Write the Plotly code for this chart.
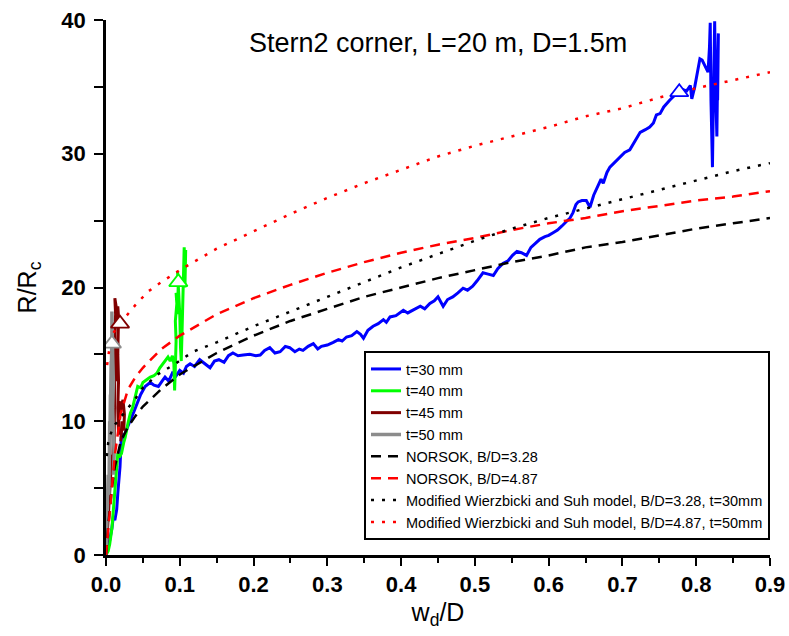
import plotly.graph_objects as go

# ---------------- data ----------------
blue_x = [0.0, 0.004, 0.008, 0.010, 0.012, 0.0145, 0.016, 0.019, 0.021, 0.024, 0.026, 0.029, 0.033, 0.037,
          0.042, 0.047, 0.053, 0.060, 0.065, 0.071, 0.076, 0.080, 0.085, 0.090, 0.095, 0.100, 0.105, 0.109,
          0.114, 0.120, 0.127, 0.134, 0.141, 0.147, 0.153, 0.160, 0.166, 0.172, 0.179, 0.186, 0.195, 0.203,
          0.209, 0.215, 0.222, 0.229, 0.236, 0.243, 0.249, 0.256, 0.262, 0.267, 0.274, 0.281, 0.287, 0.292,
          0.300, 0.308, 0.315, 0.320, 0.326, 0.333, 0.340, 0.345, 0.349, 0.355, 0.362, 0.369, 0.376, 0.380,
          0.385, 0.393, 0.398, 0.403, 0.409, 0.416, 0.421, 0.426, 0.432, 0.439, 0.445, 0.450, 0.454, 0.457,
          0.463, 0.470, 0.477, 0.484, 0.490, 0.497, 0.503, 0.511, 0.518, 0.525, 0.531, 0.538, 0.545, 0.551,
          0.557, 0.563, 0.570, 0.576, 0.582, 0.588, 0.595, 0.600, 0.606, 0.612, 0.618, 0.624, 0.629, 0.633,
          0.637, 0.640, 0.645, 0.651, 0.656, 0.661, 0.667, 0.671, 0.674, 0.679, 0.683, 0.690, 0.697, 0.703,
          0.710, 0.717, 0.724, 0.731, 0.737, 0.742, 0.746, 0.751, 0.756, 0.764, 0.770, 0.775, 0.782, 0.787,
          0.792, 0.794, 0.798, 0.801, 0.805, 0.808, 0.812, 0.816, 0.818, 0.819, 0.820, 0.821, 0.822, 0.823,
          0.824, 0.825, 0.826, 0.827, 0.828, 0.829, 0.830, 0.829]
blue_y = [0.0, 0.8, 2.0, 2.9, 2.6, 3.4, 4.6, 6.6, 9.1, 8.7, 9.1, 9.6, 10.1, 10.6,
          11.3, 12.0, 12.6, 12.9, 12.7, 12.6, 13.0, 13.3, 13.0, 13.6, 13.4, 13.8, 13.6, 14.1,
          14.3, 14.1, 14.6, 14.3, 14.0, 14.5, 14.6, 14.4, 14.9, 15.1, 14.9, 14.95, 15.0, 14.9,
          14.95, 15.3, 15.5, 15.1, 15.2, 15.6, 15.5, 15.2, 15.4, 15.3, 15.6, 15.8, 15.4, 15.6,
          15.7, 15.9, 16.1, 16.0, 16.3, 16.4, 16.7, 16.5, 16.2, 16.8, 17.1, 17.3, 17.6, 17.4,
          17.8, 17.9, 18.1, 18.3, 18.1, 18.3, 18.5, 18.6, 18.4, 18.8, 19.0, 19.3, 18.9, 18.6,
          19.1, 19.3, 19.6, 19.95, 19.8, 20.1, 20.5, 21.1, 21.0, 20.9, 21.4, 21.8, 22.0, 22.4,
          22.7, 22.6, 22.4, 23.0, 23.3, 23.6, 23.8, 23.9, 24.1, 24.3, 24.6, 24.9, 25.2, 25.6,
          26.2, 26.4, 26.5, 26.5, 26.0, 26.9, 27.7, 28.1, 27.8, 28.6, 29.0, 29.4, 29.8, 30.1,
          30.3, 31.0, 31.6, 31.8, 32.0, 32.3, 32.9, 33.0, 33.5, 34.0, 34.3, 34.6, 34.8, 34.7,
          35.1, 34.1, 35.0, 35.8, 37.1, 37.0, 36.6, 36.1, 38.0, 39.8, 34.0, 31.5, 29.0, 33.0,
          38.5, 39.9, 35.5, 32.0, 31.3, 36.0, 39.0, 34.0]

green_x = [0.0, 0.003, 0.005, 0.008, 0.010, 0.012, 0.0145, 0.016, 0.018, 0.021, 0.024, 0.026, 0.030, 0.033,
           0.036, 0.039, 0.043, 0.047, 0.050, 0.055, 0.060, 0.065, 0.069, 0.073, 0.077, 0.081, 0.084, 0.087,
           0.090, 0.092, 0.093, 0.094, 0.095, 0.094, 0.096, 0.095, 0.097, 0.098, 0.097, 0.099, 0.100, 0.101,
           0.102, 0.103, 0.104, 0.105, 0.106, 0.107, 0.108, 0.107]
green_y = [0.0, 0.3, 0.8, 2.0, 3.4, 4.8, 6.6, 7.6, 7.3, 7.6, 8.4, 8.8, 9.9, 10.6,
           11.0, 11.6, 12.6, 12.5, 12.9, 13.1, 13.3, 13.4, 13.6, 14.0, 14.3, 14.6, 14.8, 14.5,
           14.9, 14.3, 12.3, 14.0, 16.0, 17.5, 18.8, 19.6, 18.0, 20.4, 21.2, 19.5, 18.0, 15.5,
           14.5, 16.5, 19.0, 21.5, 23.0, 21.5, 22.8, 20.0]

dred_x = [0.0, 0.003, 0.006, 0.008, 0.009, 0.010, 0.011, 0.011, 0.012, 0.012, 0.013, 0.012, 0.013, 0.012,
          0.014, 0.015, 0.016, 0.017, 0.016, 0.017, 0.016, 0.017, 0.018, 0.019, 0.021, 0.023, 0.025, 0.024,
          0.022, 0.020]
dred_y = [0.0, 2.5, 5.0, 7.5, 6.5, 9.0, 8.0, 11.5, 10.5, 14.0, 13.0, 16.5, 18.0, 19.2,
          18.5, 17.5, 18.6, 17.8, 15.0, 13.0, 11.0, 9.0, 11.5, 10.5, 11.2, 11.6, 10.5, 9.3,
          10.0, 8.5]

gray_x = [0.0, 0.002, 0.003, 0.004, 0.004, 0.005, 0.005, 0.006, 0.006, 0.007, 0.007, 0.008, 0.008, 0.009,
          0.009, 0.010, 0.009, 0.010, 0.011, 0.010]
gray_y = [0.0, 3.0, 6.0, 4.5, 8.0, 10.0, 7.5, 12.0, 10.5, 14.5, 13.0, 16.5, 18.2, 17.5,
          15.0, 13.0, 11.0, 9.0, 7.5, 6.0]

# analytical model curves
norsok_x = [0.0, 0.003, 0.008, 0.012, 0.02, 0.03, 0.04, 0.05, 0.075, 0.1, 0.15, 0.2, 0.25, 0.3, 0.35,
            0.4, 0.45, 0.5, 0.55, 0.6, 0.65, 0.7, 0.75, 0.8, 0.85, 0.9]
norsok328_y = [0.0, 2.2, 5.0, 6.6, 8.5, 9.6, 10.4, 11.1, 12.4, 13.5, 15.1, 16.4, 17.5, 18.4, 19.3,
               20.0, 20.7, 21.3, 21.9, 22.4, 23.0, 23.4, 23.9, 24.4, 24.8, 25.2]
norsok487_y = [0.0, 1.9, 4.7, 7.5, 10.6, 12.4, 13.3, 14.0, 15.4, 16.4, 18.0, 19.2, 20.2, 21.1, 21.9,
               22.6, 23.2, 23.7, 24.3, 24.8, 25.2, 25.7, 26.1, 26.5, 26.8, 27.2]

ws328_x = [0.001, 0.003, 0.006, 0.01, 0.02, 0.03, 0.04, 0.05, 0.07, 0.094, 0.118, 0.15, 0.2, 0.25, 0.3,
           0.35, 0.4, 0.45, 0.5, 0.55, 0.6, 0.65, 0.7, 0.75, 0.8, 0.85, 0.9]
ws328_y = [7.4, 8.4, 9.0, 9.6, 10.3, 11.0, 11.7, 12.5, 13.5, 14.3, 15.2, 15.9, 17.1, 18.2, 19.3,
           20.4, 21.5, 22.5, 23.5, 24.4, 25.2, 25.9, 26.6, 27.3, 28.0, 28.7, 29.3]

ws487_x = [0.0015, 0.005, 0.01, 0.02, 0.028, 0.04, 0.057, 0.075, 0.1, 0.15, 0.2, 0.25, 0.3, 0.35, 0.4,
           0.45, 0.5, 0.55, 0.6, 0.65, 0.7, 0.75, 0.8, 0.85, 0.9]
ws487_y = [14.2, 15.6, 16.6, 17.4, 17.9, 18.7, 19.7, 20.4, 21.3, 22.9, 24.2, 25.5, 26.7, 27.8, 28.8,
           29.8, 30.6, 31.3, 32.0, 32.8, 33.4, 34.2, 34.9, 35.5, 36.1]

# failure markers (open triangles)
tri_x = [0.777, 0.098, 0.019, 0.008]
tri_y = [34.6, 20.4, 17.3, 15.8]
tri_colors = ["#0000FF", "#00FF00", "#800000", "#8C8C8C"]

series_names = ["t=30 mm", "t=40 mm", "t=45 mm", "t=50 mm",
                "NORSOK, B/D=3.28", "NORSOK, B/D=4.87",
                "Modified Wierzbicki and Suh model, B/D=3.28, t=30mm",
                "Modified Wierzbicki and Suh model, B/D=4.87, t=50mm"]

x_ticks = [0.0, 0.1, 0.2, 0.3, 0.4, 0.5, 0.6, 0.7, 0.8, 0.9]
y_ticks = [0, 10, 20, 30, 40]

# ---------------- figure ----------------
fig = go.Figure()

data_series = [(blue_x, blue_y, "#0000FF", 3), (green_x, green_y, "#00FF00", 3),
               (dred_x, dred_y, "#800000", 3), (gray_x, gray_y, "#8C8C8C", 3.5)]
for (xs, ys, c, w), name in zip(data_series, series_names[:4]):
    fig.add_trace(go.Scatter(x=xs, y=ys, mode="lines", name=name,
                             line=dict(color=c, width=w)))

model_series = [(norsok_x, norsok328_y, "black", "10px,7px"),
                (norsok_x, norsok487_y, "#FF0000", "10px,7px"),
                (ws328_x, ws328_y, "black", "3px,8px"),
                (ws487_x, ws487_y, "#FF0000", "3px,8px")]
for (xs, ys, c, d), name in zip(model_series, series_names[4:]):
    fig.add_trace(go.Scatter(x=xs, y=ys, mode="lines", name=name,
                             line=dict(color=c, width=2.5, dash=d)))

for xv, yv, c in zip(tri_x, tri_y, tri_colors):
    fig.add_trace(go.Scatter(x=[xv], y=[yv], mode="markers", showlegend=False,
                             marker=dict(symbol="triangle-up", size=16, color="white",
                                         line=dict(color=c, width=1.8))))

FONT = "Liberation Sans, Arial, sans-serif"
fig.update_layout(
    width=789, height=636,
    margin=dict(l=106, r=19, t=20, b=81, autoexpand=False),
    paper_bgcolor="white", plot_bgcolor="white",
    font=dict(family=FONT, color="black"),
    showlegend=True,
    legend=dict(x=1.0, y=0.028, xanchor="right", yanchor="bottom",
                bordercolor="black", borderwidth=2, bgcolor="white",
                font=dict(size=14.5, family=FONT, color="black"),
                tracegroupgap=0),
    annotations=[dict(text="Stern2 corner, L=20 m, D=1.5m", xref="paper", yref="paper",
                      x=0.5, y=0.957, xanchor="center", yanchor="middle", showarrow=False,
                      font=dict(size=27, family=FONT, color="black"))],
)

fig.update_xaxes(
    range=[0, 0.9], tickmode="array", tickvals=x_ticks,
    ticktext=[f"{v:.1f}" for v in x_ticks], automargin=False,
    showgrid=False, zeroline=False, showline=True, linecolor="black", linewidth=2.5,
    ticks="outside", ticklen=8, tickwidth=2, tickcolor="black",
    minor=dict(tickvals=[0.05, 0.15, 0.25, 0.35, 0.45, 0.55, 0.65, 0.75, 0.85],
               ticks="outside", ticklen=5, tickwidth=2, tickcolor="black"),
    tickfont=dict(size=22, family=FONT, color="black", weight="bold"),
    title=dict(text="w<sub>d</sub>/D", font=dict(size=25, family=FONT, color="black"), standoff=8),
)
fig.update_yaxes(
    range=[0, 40], tickmode="array", tickvals=y_ticks,
    ticktext=[str(v) for v in y_ticks], automargin=False,
    showgrid=False, zeroline=False, showline=True, linecolor="black", linewidth=2.5,
    ticks="outside", ticklen=9, tickwidth=2, tickcolor="black",
    minor=dict(tickvals=[5, 15, 25, 35], ticks="outside", ticklen=9, tickwidth=2, tickcolor="black"),
    tickfont=dict(size=22, family=FONT, color="black", weight="bold"),
    ticklabelstandoff=4,
    title=dict(text="R/R<sub>c</sub>", font=dict(size=25, family=FONT, color="black"), standoff=18),
)

fig.write_html("out.html")
